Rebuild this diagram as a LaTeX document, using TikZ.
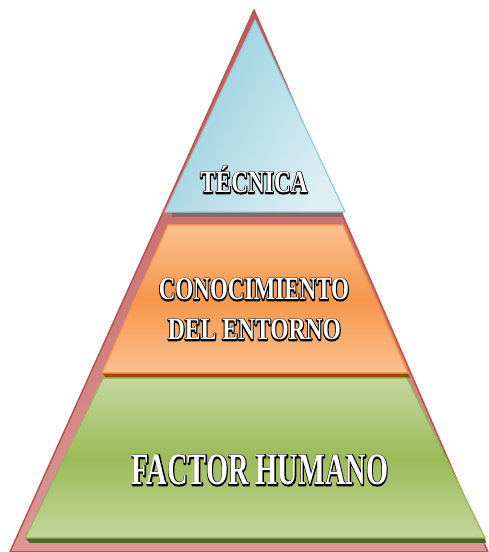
\documentclass[tikz,border=0pt]{standalone}
\usepackage{fontspec}
\setmainfont{Liberation Serif}
\definecolor{redDark}{HTML}{C0504D}
\definecolor{redTop}{HTML}{C05A57}
\definecolor{redBot}{HTML}{DB9896}
\definecolor{blueLight}{HTML}{DCEFF4}
\definecolor{blueDark}{HTML}{93CDDD}
\definecolor{blueLine}{HTML}{8FCADB}
\definecolor{blueShadow}{HTML}{8A6666}
\definecolor{orLight}{HTML}{FAC090}
\definecolor{orMid}{HTML}{F6964A}
\definecolor{orLine}{HTML}{F79646}
\definecolor{orShadow}{HTML}{9A4A0A}
\definecolor{grLight}{HTML}{C3D69B}
\definecolor{grMid}{HTML}{9BBB59}
\definecolor{grLine}{HTML}{93B654}
\definecolor{grShadow}{HTML}{4F6228}
\newcommand{\outl}[1]{\rlap{\special{pdf:literal direct 1 Tr 2.6 w 1 j 0 G}#1\special{pdf:literal direct 0 Tr}}#1}
\begin{document}
\begin{tikzpicture}[x=1pt,y=1pt,
  lbl/.style={text=white, inner sep=0pt, anchor=base, font=\bfseries},
  layer/.style={line width=1.2pt, line join=round}]
\useasboundingbox (0,0) rectangle (489,552);
% outer triangle
\path[draw=redDark, line width=1.5pt, line join=round, top color=redTop, bottom color=redBot]
  (254,542) -- (488,0) -- (10,0) -- cycle;
% top (blue) triangle
\fill[blueShadow] (172,335) -- (343,335) -- (343,340) -- (172,340) -- cycle;
\path[layer, draw=blueLine, left color=blueDark, right color=blueLight, shading angle=60]
  (255,532) -- (345,340) -- (165,340) -- cycle;
% middle (orange) trapezoid
\fill[orShadow] (106,174) -- (410,174) -- (408,179) -- (102,179) -- cycle;
\path[layer, draw=orLine, top color=orLight, bottom color=orLight, middle color=orMid]
  (168,327) -- (343,327) -- (408,179) -- (102,179) -- cycle;
% bottom (green) trapezoid
\fill[grShadow] (30,9) -- (486,9) -- (485,14) -- (25,14) -- cycle;
\path[layer, draw=grLine, top color=grLight, bottom color=grLight, middle color=grMid]
  (103,174) -- (407,174) -- (485,14) -- (25,14) -- cycle;
% labels
\node[lbl] (tec) at (254,359) {\scalebox{0.75}[1]{\fontsize{31}{31}\selectfont\outl{TÉCNICA}}};
\node[lbl] (con1) at (254,252) {\scalebox{0.72}[1]{\fontsize{32}{32}\selectfont\outl{CONOCIMIENTO}}};
\node[lbl] (con2) at (254.5,212) {\scalebox{0.76}[1]{\fontsize{31}{31}\selectfont\outl{DEL ENTORNO}}};
\node[lbl] (fac) at (260,67) {\scalebox{0.63}[1]{\fontsize{45}{45}\selectfont\outl{FACTOR HUMANO}}};
\end{tikzpicture}
\end{document}
